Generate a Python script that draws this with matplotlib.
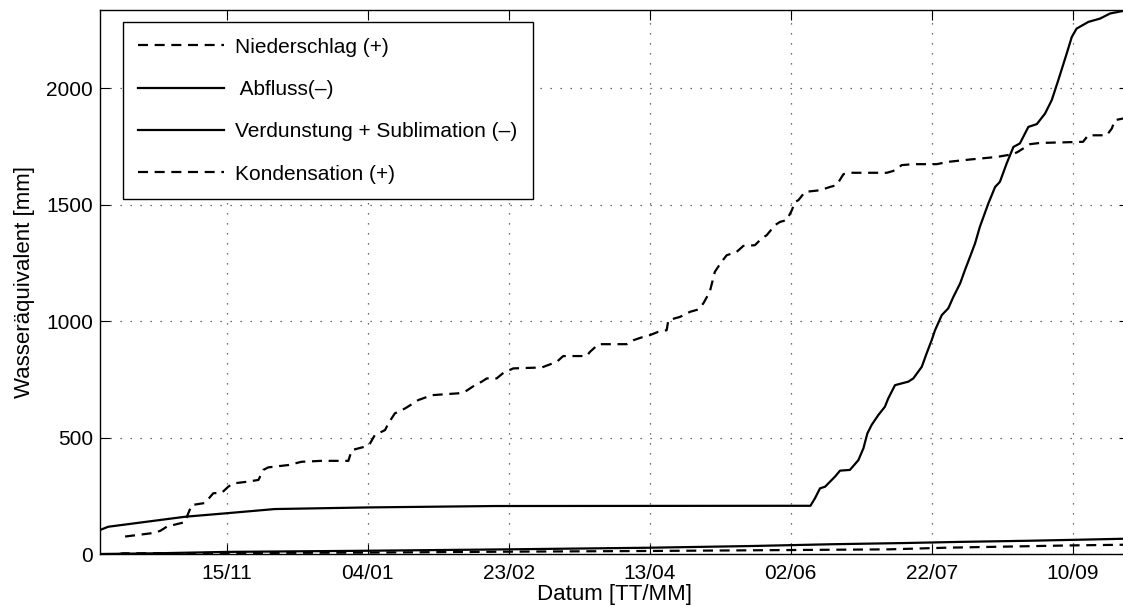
import matplotlib
matplotlib.use('Agg')
import matplotlib.pyplot as plt
import matplotlib.dates as mdates
import numpy as np
import pandas as pd

plt.rcParams['font.family'] = ['Liberation Sans', 'DejaVu Sans']
plt.rcParams['font.size'] = 15

# hydrological year starting 01/10 (leap year -> 50-day ticks land on the right dates)
start = pd.Timestamp('2011-10-01')

# cumulative sums, x = days since 01/10, y = mm water equivalent
nied_days = [8.9, 18.8, 21.3, 23.8, 30.2, 30.8, 32.5, 37.2, 40.2, 43.2, 45.5, 47.2, 52.0, 56.2,
             57.9, 59.7, 66.8, 71.5, 78.6, 88.1, 89.3, 94.0, 95.8, 97.5, 101.1, 102.3, 104.6,
             108.2, 111.1, 112.9, 117.7, 127.1, 129.5, 133.0, 135.4, 137.2, 140.7, 143.1, 146.6,
             156.7, 162.0, 164.3, 172.6, 173.8, 176.8, 186.8, 189.2, 192.1, 195.1, 198.0, 201.0,
             201.6, 205.7, 209.3, 212.2, 214.0, 216.3, 218.1, 220.5, 222.3, 225.8, 228.2, 232.3,
             234.7, 236.5, 239.4, 241.2, 243.6, 245.4, 246.5, 247.7, 250.1, 255.4, 258.9, 261.3,
             263.7, 266.0, 279.1, 281.4, 284.4, 288.5, 296.8, 300.9, 308.6, 318.1, 323.9, 325.6,
             329.9, 333.4, 348.7, 350.5, 357.1, 358.9, 360.0, 362.9, 365.0]
nied_vals = [75, 90, 99, 118, 137, 159, 210, 219, 261, 263, 289, 303, 310, 318,
             361, 372, 382, 396, 400, 400, 446, 461, 475, 511, 532, 561, 604,
             625, 647, 661, 682, 690, 697, 725, 740, 754, 754, 778, 797,
             801, 825, 850, 850, 868, 901, 901, 918, 930, 940, 954, 961,
             1004, 1018, 1040, 1050, 1076, 1126, 1212, 1255, 1283, 1297, 1323, 1326,
             1355, 1369, 1412, 1426, 1434, 1476, 1512, 1519, 1555, 1562, 1576, 1584,
             1631, 1637, 1637, 1645, 1670, 1674, 1674, 1684, 1694, 1705, 1717, 1727,
             1760, 1765, 1770, 1798, 1798, 1827, 1863, 1870, 1872]

abfl_days = [0, 2.9, 30.2, 44.9, 62.0, 95.2, 140.0, 241.0, 252.0, 253.6, 255.4, 257.2, 258.9,
             260.7, 262.5, 266.0, 269.0, 270.8, 272.2, 273.7, 276.1, 278.4, 279.6, 282.0, 286.7,
             288.5, 291.5, 293.2, 295.0, 296.2, 298.6, 300.9, 302.7, 305.1, 306.8, 308.6, 310.4,
             312.1, 315.1, 317.5, 319.2, 321.6, 324.0, 326.3, 329.3, 332.3, 335.2, 337.6, 339.9,
             342.9, 344.7, 346.4, 350.6, 354.7, 358.3, 362.9, 365.0]
abfl_vals = [103, 117, 160, 175, 193, 200, 206, 207, 207, 239, 282, 289, 310,
             332, 358, 361, 403, 454, 518, 554, 597, 632, 668, 725, 740,
             754, 804, 861, 918, 961, 1026, 1055, 1104, 1162, 1219, 1276, 1334,
             1405, 1505, 1576, 1598, 1677, 1748, 1763, 1834, 1846, 1891, 1949, 2034,
             2149, 2220, 2256, 2285, 2299, 2321, 2332, 2336]

verd_days = [0, 20, 45, 95, 145, 195, 230, 260, 285, 305, 330, 350, 365]
verd_vals = [0, 3, 9, 14, 20, 27, 34, 42, 47, 52, 57, 62, 66]

kond_days = [7, 8, 95, 145, 195, 245, 280, 300, 345, 365]
kond_vals = [0, 3, 6, 10, 13, 17, 20, 27, 37, 40]

tick_dates = ['2011-11-15', '2012-01-04', '2012-02-23', '2012-04-13',
              '2012-06-02', '2012-07-22', '2012-09-10']


def to_dates(days):
    return start + pd.to_timedelta(np.array(days), unit='D')


fig = plt.figure(figsize=(11.23, 6.10), dpi=100)
ax = fig.add_axes([100 / 1123, 56 / 610, 1029 / 1123, 544 / 610])

lw = 1.6
dash = (4.5, 3.0)
l1, = ax.plot(to_dates(nied_days), nied_vals, color='black', lw=lw, dashes=dash)
l2, = ax.plot(to_dates(abfl_days), abfl_vals, color='black', lw=lw)
l3, = ax.plot(to_dates(verd_days), verd_vals, color='black', lw=lw)
l4, = ax.plot(to_dates(kond_days), kond_vals, color='black', lw=lw, dashes=dash)

ax.set_xlim(start, start + pd.Timedelta(days=365))
ax.set_ylim(0, 2336)
ax.set_xticks(pd.to_datetime(tick_dates))
ax.xaxis.set_major_formatter(mdates.DateFormatter('%d/%m'))
ax.set_yticks([0, 500, 1000, 1500, 2000])

ax.grid(True, color='0.25', linestyle=(0, (1, 7)), linewidth=0.9)
ax.tick_params(direction='in', length=7, width=0.8, top=True, right=True, labelsize=15)
ax.tick_params(axis='x', pad=7)
ax.tick_params(axis='y', pad=5)
for sp in ax.spines.values():
    sp.set_linewidth(1.0)

ax.set_xlabel('Datum [TT/MM]', fontsize=16, labelpad=1)
ax.set_ylabel('Wasseräquivalent [mm]', fontsize=16, labelpad=8)

leg = ax.legend([l1, l2, l3, l4],
                ['Niederschlag (+)', ' Abfluss(–)', 'Verdunstung + Sublimation (–)', 'Kondensation (+)'],
                loc='upper left', bbox_to_anchor=(0.022, 0.978), fontsize=15,
                handlelength=4.1, handletextpad=0.55, labelspacing=1.12,
                borderpad=0.75, borderaxespad=0, fancybox=False, framealpha=1)
leg.get_frame().set_edgecolor('black')
leg.get_frame().set_linewidth(1.0)

fig.savefig('out.png', dpi=100)
